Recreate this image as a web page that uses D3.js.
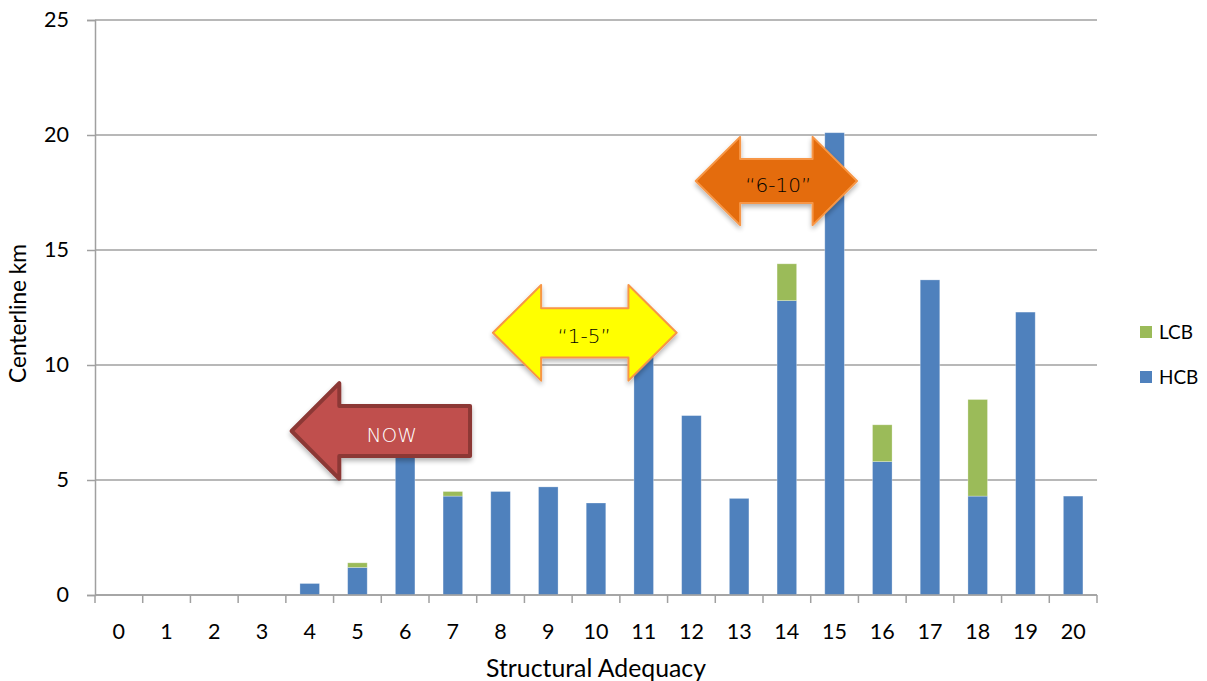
<!DOCTYPE html>
<html>
<head>
<meta charset="utf-8">
<script src="https://cdnjs.cloudflare.com/ajax/libs/d3/7.8.5/d3.min.js"></script>
<style>
  html, body { margin: 0; padding: 0; background: #fff; }
  svg { display: block; }
  text { font-family: Lato, "Open Sans", sans-serif; }
</style>
</head>
<body>
<svg id="chart" width="1207" height="681"></svg>
<script>
// ---- data ----
const categories = ["0","1","2","3","4","5","6","7","8","9","10","11","12","13","14","15","16","17","18","19","20"];
const hcbValues  = [0, 0, 0, 0, 0.5, 1.2, 7.0, 4.3, 4.5, 4.7, 4.0, 10.8, 7.8, 4.2, 12.8, 20.1, 5.8, 13.7, 4.3, 12.3, 4.3];
const lcbValues  = [0, 0, 0, 0, 0, 0.2, 0, 0.2, 0, 0, 0, 0, 0, 0, 1.6, 0, 1.6, 0, 4.2, 0, 0];
const yTicks     = [0, 5, 10, 15, 20, 25];
const seriesNames = ["LCB", "HCB"];
const xTitle = "Structural Adequacy";
const yTitle = "Centerline km";

// annotation arrow labels
const arrowLabels = ["NOW", "\u201C1-5\u201D", "\u201C6-10\u201D"];

// ---- layout ----
const svg = d3.select("#chart");
const mLeft = 95, mRight = 1097, mTop = 20, mBottom = 595;

const x = d3.scaleBand().domain(categories).range([mLeft, mRight])
  .paddingInner(0.59).paddingOuter(0.295);
const xc = d3.scaleLinear().domain([-0.5, categories.length - 0.5]).range([mLeft, mRight]);
const y = d3.scaleLinear().domain([0, 25]).range([mBottom, mTop]);

const gridColor = "#a0a0a0";

// font-size helper: size text so a sample string reaches a target width
function fitSize(sample, target, family) {
  const t = svg.append("text").attr("font-size", 20).style("font-family", family || "Lato, sans-serif").text(sample);
  const w = t.node().getComputedTextLength();
  t.remove();
  return 20 * target / w;
}
const tickFont = fitSize("20", 25);
const xTitleFont = fitSize(xTitle, 220);
const yTitleFont = fitSize(yTitle, 139);
const legendFont = fitSize("LCB", 34);

// gridlines
svg.append("g").selectAll("line").data(yTicks).join("line")
  .attr("x1", mLeft).attr("x2", mRight)
  .attr("y1", d => y(d)).attr("y2", d => y(d))
  .attr("stroke", gridColor).attr("stroke-width", 1.5);

// y axis
const yAxis = svg.append("g").attr("transform", `translate(${mLeft},0)`)
  .call(d3.axisLeft(y).tickValues(yTicks).tickSize(8).tickPadding(18));
yAxis.select(".domain").attr("stroke", gridColor).attr("stroke-width", 1.5);
yAxis.selectAll(".tick line").attr("stroke", gridColor).attr("stroke-width", 1.5);
yAxis.selectAll(".tick text").attr("font-size", tickFont).attr("fill", "#000")
  .style("font-family", "Lato, sans-serif");

// bars
const colHCB = "#4F81BD", colLCB = "#9BBB59";
const stackData = categories.map((c, i) => ({ cat: c, HCB: hcbValues[i], LCB: lcbValues[i] }));
const stack = d3.stack().keys(["HCB", "LCB"])(stackData);
const colors = { HCB: colHCB, LCB: colLCB };
svg.append("g").selectAll("g").data(stack).join("g")
  .attr("fill", d => colors[d.key])
  .selectAll("rect").data(d => d.filter(p => p[1] - p[0] > 0)).join("rect")
  .attr("x", d => x(d.data.cat))
  .attr("width", x.bandwidth())
  .attr("y", d => y(d[1]))
  .attr("height", d => y(d[0]) - y(d[1]))
  .attr("stroke", "rgba(255,255,255,0.35)").attr("stroke-width", 0.8);

// x axis
const xAxisG = svg.append("g");
xAxisG.append("line").attr("x1", mLeft).attr("x2", mRight)
  .attr("y1", mBottom).attr("y2", mBottom)
  .attr("stroke", gridColor).attr("stroke-width", 1.5);
const boundaries = d3.range(categories.length + 1);
xAxisG.selectAll("line.tk").data(boundaries).join("line").attr("class", "tk")
  .attr("x1", d => xc(d - 0.5)).attr("x2", d => xc(d - 0.5))
  .attr("y1", mBottom).attr("y2", mBottom + 8)
  .attr("stroke", gridColor).attr("stroke-width", 1.5);
xAxisG.selectAll("text").data(categories).join("text")
  .attr("x", d => x(d) + x.bandwidth() / 2)
  .attr("y", 638.5)
  .attr("text-anchor", "middle").attr("font-size", tickFont).attr("fill", "#000")
  .text(d => d);

// axis titles
svg.append("text").attr("x", (mLeft + mRight) / 2).attr("y", 676.5)
  .attr("text-anchor", "middle").attr("font-size", xTitleFont).attr("fill", "#000").text(xTitle);
svg.append("text").attr("transform", `translate(26,${(mTop + mBottom) / 2 + 6}) rotate(-90)`)
  .attr("text-anchor", "middle").attr("font-size", yTitleFont).attr("fill", "#000").text(yTitle);

// legend
const legend = svg.append("g");
seriesNames.forEach((s, i) => {
  const ly = 332 + i * 45;
  legend.append("rect").attr("x", 1140).attr("y", ly - 6).attr("width", 12).attr("height", 12)
    .attr("fill", colors[s]);
  legend.append("text").attr("x", 1159).attr("y", ly + 7).attr("font-size", legendFont)
    .attr("fill", "#000").text(s);
});

// ---- arrows ----
function arrowPath(a) {
  const cy = y(a.cy);
  const unit = y(0) - y(1);
  const hh = a.headH * unit;
  const bh = a.bodyH * unit;
  const xl = xc(a.tipL), xr = xc(a.tipR);
  const hl = a.headLen * (xc(1) - xc(0));
  const p = d3.path();
  p.moveTo(xl, cy);
  p.lineTo(xl + hl, cy - hh);
  p.lineTo(xl + hl, cy - bh);
  if (a.double) {
    p.lineTo(xr - hl, cy - bh);
    p.lineTo(xr - hl, cy - hh);
    p.lineTo(xr, cy);
    p.lineTo(xr - hl, cy + hh);
    p.lineTo(xr - hl, cy + bh);
  } else {
    p.lineTo(xr, cy - bh);
    p.lineTo(xr, cy + bh);
  }
  p.lineTo(xl + hl, cy + bh);
  p.lineTo(xl + hl, cy + hh);
  p.closePath();
  return p.toString();
}

const defs = svg.append("defs");
const f = defs.append("filter").attr("id", "shadow").attr("x", "-20%").attr("y", "-20%")
  .attr("width", "140%").attr("height", "150%");
f.append("feGaussianBlur").attr("in", "SourceAlpha").attr("stdDeviation", 2.5);
f.append("feOffset").attr("dx", 0).attr("dy", 3).attr("result", "ob");
f.append("feComponentTransfer").append("feFuncA").attr("type", "linear").attr("slope", 0.3);
const m = f.append("feMerge");
m.append("feMergeNode");
m.append("feMergeNode").attr("in", "SourceGraphic");

const arrows = [
  { label: arrowLabels[0], tipL: 3.62, tipR: 7.36, cy: 7.13, headH: 2.08, bodyH: 1.09, headLen: 1.0,
    double: false, fill: "#C0504D", stroke: "#8C3836", sw: 4, text: "#fff", tx: 5.72 },
  { label: arrowLabels[1], tipL: 7.84, tipR: 11.69, cy: 11.4, headH: 2.08, bodyH: 1.07, headLen: 1.01,
    double: true, fill: "#FFFF00", stroke: "#F79646", sw: 2, text: "#000", tx: 9.75 },
  { label: arrowLabels[2], tipL: 12.09, tipR: 15.47, cy: 18.0, headH: 1.92, bodyH: 0.96, headLen: 0.93,
    double: true, fill: "#E46C0A", stroke: "#F79646", sw: 2, text: "#000", tx: 13.82 }
];

const ag = svg.append("g");
arrows.forEach(a => {
  ag.append("path").attr("d", arrowPath(a))
    .attr("fill", a.fill).attr("stroke", a.stroke).attr("stroke-width", a.sw)
    .attr("stroke-linejoin", "round").attr("filter", "url(#shadow)");
  ag.append("text").attr("x", xc(a.tx)).attr("y", y(a.cy) + 10.5)
    .attr("text-anchor", "middle").attr("font-size", 20).attr("fill", a.text)
    .style("font-family", "'DejaVu Sans', sans-serif").style("font-weight", 300)
    .text(a.label);
});
</script>
</body>
</html>
